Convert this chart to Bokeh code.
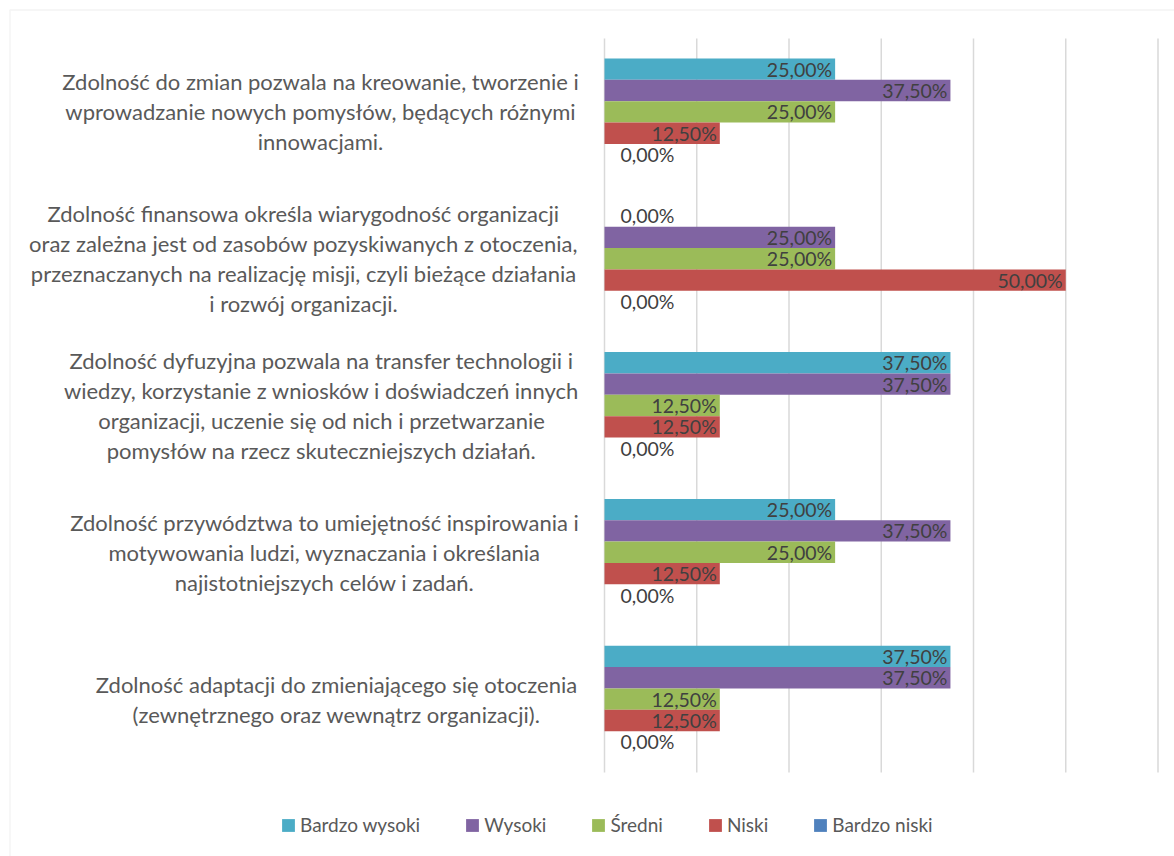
from bokeh.plotting import figure
from bokeh.models import (ColumnDataSource, Range1d, Legend, LegendItem, BoxAnnotation)
from bokeh.core.properties import value
from bokeh.embed import file_html
from bokeh.resources import INLINE

# ---- data (top-to-bottom order as shown) ----
categories = [
    "Zdolność do zmian pozwala na kreowanie, tworzenie i\nwprowadzanie nowych pomysłów, będących różnymi\ninnowacjami.",
    "Zdolność finansowa określa wiarygodność organizacji\noraz zależna jest od zasobów pozyskiwanych z otoczenia,\nprzeznaczanych na realizację misji, czyli bieżące działania\ni rozwój organizacji.",
    "Zdolność dyfuzyjna pozwala na transfer technologii i\nwiedzy, korzystanie z wniosków i doświadczeń innych\norganizacji, uczenie się od nich i przetwarzanie\npomysłów na rzecz skuteczniejszych działań.",
    "Zdolność przywództwa to umiejętność inspirowania i\nmotywowania ludzi, wyznaczania i określania\nnajistotniejszych celów i zadań.",
    "Zdolność adaptacji do zmieniającego się otoczenia\n(zewnętrznego oraz wewnątrz organizacji).",
]
series_names = ["Bardzo wysoki", "Wysoki", "Średni", "Niski", "Bardzo niski"]
bardzo_wysoki = [25.0, 0.0, 37.5, 25.0, 37.5]
wysoki = [37.5, 25.0, 37.5, 37.5, 37.5]
sredni = [25.0, 25.0, 12.5, 25.0, 12.5]
niski = [12.5, 50.0, 12.5, 12.5, 12.5]
bardzo_niski = [0.0, 0.0, 0.0, 0.0, 0.0]
series_values = [bardzo_wysoki, wysoki, sredni, niski, bardzo_niski]
colors = ["#4BACC6", "#8064A2", "#9BBB59", "#C0504D", "#4F81BD"]
grid_ticks = [0, 10, 20, 30, 40, 50, 60]

# ---- layout constants ----
FONT = "Lato"
W, H = 1174, 856
PX_PER_UNIT = 9.225           # pixels per percentage point
ZERO_PX = 604                 # page x of 0 %
PLOT_TOP, PLOT_BOT = 38, 772  # page y of plot area
label_center_px = [320, 303, 321, 324, 336]
bar_h = 0.1455

ncat = len(categories)
cat_px = (PLOT_BOT - PLOT_TOP) / ncat
x_start = -ZERO_PX / PX_PER_UNIT
x_end = 60 + (W - 1157.5) / PX_PER_UNIT
y_end = ncat + PLOT_TOP / cat_px
y_start = -(H - PLOT_BOT) / cat_px

p = figure(width=W, height=H, output_backend="svg", toolbar_location=None,
           x_range=Range1d(x_start, x_end), y_range=Range1d(y_start, y_end),
           x_axis_location=None, y_axis_location=None,
           min_border_left=0, min_border_right=0, min_border_top=0, min_border_bottom=0)
p.outline_line_color = None
p.background_fill_color = "white"
p.border_fill_color = "white"
p.grid.visible = False

# vertical gridlines spanning the plot area
p.segment(x0=grid_ticks, x1=grid_ticks, y0=[0] * len(grid_ticks), y1=[ncat] * len(grid_ticks),
          line_color="#D9D9D9", line_width=1.5)

ypos = [ncat - 0.5 - i for i in range(ncat)]

items = []
n = len(series_names)
for i, (name, vals, col) in enumerate(zip(series_names, series_values, colors)):
    off = ((n - 1) / 2 - i) * bar_h
    src = ColumnDataSource(dict(
        y=[yy + off for yy in ypos], val=vals,
        txt=[f"{v:.2f}%".replace(".", ",") for v in vals],
        align=["right" if v > 0 else "left" for v in vals],
        xoff=[-3 if v > 0 else 16 for v in vals],
    ))
    r = p.hbar(y="y", right="val", left=0, height=bar_h,
               fill_color=col, line_color=None, source=src)
    p.text(x="val", y="y", text="txt", source=src,
           text_align="align", x_offset="xoff", text_baseline="middle",
           text_font=value(FONT), text_font_size="19.5px", text_color="#404040")
    items.append(LegendItem(label=name, renderers=[r]))

lab_src = ColumnDataSource(dict(
    y=ypos, cat=categories,
    x=[(c - ZERO_PX) / PX_PER_UNIT for c in label_center_px],
))
p.text(x="x", y="y", text="cat", source=lab_src, text_align="center",
       text_baseline="middle", text_font=value(FONT), text_font_size="22px",
       text_color="#595959", text_line_height=1.11)

box = BoxAnnotation(left=9.5, top=9.5, right=3000, bottom=3000,
                    left_units="canvas", right_units="canvas",
                    top_units="canvas", bottom_units="canvas",
                    fill_alpha=0, line_color="#D9D9D9", line_width=1.5)
p.add_layout(box)

legend = Legend(items=items, orientation="horizontal", location=(280, 20),
                glyph_width=16, glyph_height=16, label_standoff=4, spacing=44,
                padding=0, margin=0, border_line_color=None, background_fill_alpha=0,
                label_text_font=FONT, label_text_font_size="19px",
                label_text_color="#595959")
p.add_layout(legend, "center")

open("out.html", "w").write(file_html(p, INLINE))
